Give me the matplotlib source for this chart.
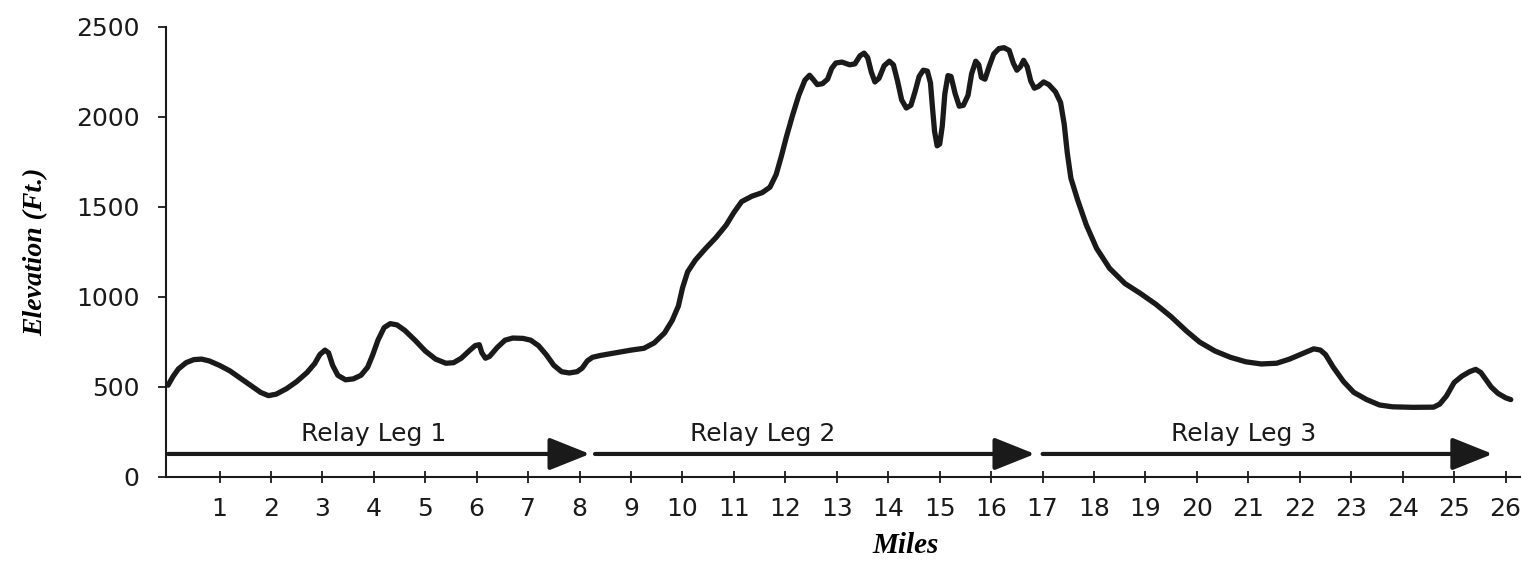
import matplotlib
matplotlib.use("Agg")
import matplotlib.pyplot as plt

# ── Elevation profile (miles, feet) ─────────────────────────────────────
miles = [
    # leg 1
    0.0, 0.1, 0.2, 0.35, 0.5, 0.65, 0.8, 1.0, 1.2, 1.4, 1.6, 1.8, 1.95,
    2.1, 2.3, 2.5, 2.7, 2.85, 2.95, 3.05, 3.12, 3.2, 3.3, 3.45, 3.6, 3.75,
    3.88, 3.98, 4.08, 4.2, 4.32, 4.45, 4.6, 4.8, 5.0, 5.2, 5.4, 5.55, 5.7,
    5.85, 5.97, 6.05, 6.1, 6.17, 6.25, 6.4, 6.55, 6.7, 6.9, 7.05, 7.2,
    7.35, 7.5, 7.65, 7.8, 7.95, 8.05, 8.15, 8.25, 8.4,
    # leg 2
    8.7, 9.0, 9.25, 9.45, 9.65, 9.8, 9.92, 10.0, 10.1, 10.25, 10.45,
    10.65, 10.85, 11.0, 11.15, 11.35, 11.55, 11.7, 11.82, 11.92, 12.02,
    12.14, 12.26, 12.38, 12.47, 12.55, 12.62, 12.72, 12.82, 12.9, 12.98,
    13.1, 13.25, 13.35, 13.45, 13.53, 13.6, 13.67, 13.74, 13.82, 13.92,
    14.02, 14.1, 14.18, 14.26, 14.35, 14.44, 14.52, 14.6, 14.68, 14.76,
    14.82, 14.86, 14.9, 14.95, 15.0, 15.05, 15.1, 15.16, 15.22, 15.3,
    15.38, 15.46, 15.55, 15.62, 15.7, 15.76, 15.81, 15.88, 15.96, 16.05,
    16.15, 16.25, 16.35, 16.43, 16.5, 16.57, 16.63, 16.7, 16.77, 16.84,
    # leg 3
    16.92, 17.02, 17.12, 17.25, 17.35, 17.42, 17.48, 17.55, 17.68, 17.85,
    18.05, 18.3, 18.6, 18.9, 19.2, 19.5, 19.8, 20.05, 20.35, 20.65, 20.95,
    21.25, 21.55, 21.8, 22.05, 22.27, 22.4, 22.5, 22.65, 22.85, 23.05,
    23.3, 23.55, 23.8, 24.2, 24.6, 24.72, 24.85, 25.0, 25.15, 25.3, 25.42,
    25.52, 25.62, 25.72, 25.85, 26.0, 26.1,
]
elevation = [
    # leg 1
    510, 560, 600, 635, 652, 655, 645, 620, 590, 550, 510, 470, 452,
    460, 490, 530, 580, 630, 680, 705, 690, 620, 565, 540, 545, 565,
    610, 680, 760, 830, 852, 845, 815, 760, 700, 655, 632, 635, 660,
    700, 730, 735, 690, 660, 670, 720, 760, 772, 770, 760, 730,
    680, 620, 585, 578, 585, 605, 645, 665, 675,
    # leg 2
    690, 705, 715, 745, 800, 870, 950, 1050, 1140, 1205, 1270,
    1330, 1400, 1470, 1530, 1560, 1580, 1610, 1680, 1780, 1890,
    2010, 2120, 2205, 2232, 2205, 2180, 2185, 2210, 2270, 2300,
    2305, 2290, 2295, 2340, 2355, 2330, 2250, 2195, 2215, 2285,
    2310, 2290, 2200, 2095, 2050, 2065, 2140, 2225, 2260, 2255,
    2190, 2050, 1920, 1840, 1850, 1950, 2130, 2230, 2225, 2130,
    2060, 2065, 2120, 2240, 2310, 2290, 2220, 2210, 2280, 2350,
    2380, 2385, 2370, 2300, 2260, 2280, 2315, 2280, 2200, 2160,
    # leg 3
    2170, 2195, 2180, 2140, 2080, 1960, 1800, 1660, 1540, 1400,
    1270, 1160, 1075, 1020, 960, 890, 810, 750, 700, 665, 640,
    628, 632, 655, 685, 712, 705, 680, 610, 530, 470,
    430, 400, 390, 387, 388, 405, 450, 525, 560, 585, 598,
    580, 540, 500, 465, 440, 430,
]

# ── Relay legs ──────────────────────────────────────────────────────────
leg_labels = ["Relay Leg 1", "Relay Leg 2", "Relay Leg 3"]
leg_start = [0.0, 8.3, 17.0]
leg_end = [8.2, 16.85, 25.75]
leg_label_x = [4.0, 11.55, 20.9]

x_ticks = list(range(1, 27))
y_ticks = [0, 500, 1000, 1500, 2000, 2500]

TICK_FONT = "DejaVu Sans"
LABEL_FONT = "Liberation Serif"
INK = "#1a1a1a"

fig = plt.figure(figsize=(15.22, 5.63), dpi=100)
fig.patch.set_facecolor("white")
ax = fig.add_axes([166 / 1522, 1 - 477 / 563, (1520 - 166) / 1522, (477 - 27) / 563])

ax.plot(miles, elevation, color=INK, linewidth=3.8,
        solid_joinstyle="round", solid_capstyle="round")

# arrows + labels for the relay legs
for label, x0, x1, xl in zip(leg_labels, leg_start, leg_end, leg_label_x):
    ax.annotate("", xy=(x1, 128), xytext=(x0, 128),
                arrowprops=dict(arrowstyle="-|>,head_length=1.25,head_width=0.5",
                                mutation_scale=20, lw=3, color=INK,
                                shrinkA=0, shrinkB=0))
    ax.text(xl, 240, label, ha="center", va="center", fontsize=18,
            family=TICK_FONT, color=INK)

ax.set_xlim(-0.04, 26.28)
ax.set_ylim(0, 2500)
ax.set_xticks(x_ticks)
ax.set_xticklabels([str(t) for t in x_ticks], fontsize=18, family=TICK_FONT)
ax.set_yticks(y_ticks)
ax.set_yticklabels([str(t) for t in y_ticks], fontsize=18, family=TICK_FONT)

for side in ("top", "right"):
    ax.spines[side].set_visible(False)
for side in ("left", "bottom"):
    ax.spines[side].set_linewidth(1.5)
    ax.spines[side].set_color(INK)

ax.tick_params(axis="x", direction="inout", length=9, width=1.3, pad=10,
               colors=INK)
ax.tick_params(axis="y", direction="out", length=6, width=1.3, pad=13,
               colors=INK)

ax.set_ylabel("Elevation (Ft.)", family=LABEL_FONT, fontsize=20,
              fontweight="bold", style="italic", labelpad=20)
ax.set_xlabel("Miles", family=LABEL_FONT, fontsize=21,
              fontweight="bold", style="italic", labelpad=8, x=0.546)

fig.savefig("out.png", dpi=100, facecolor="white")
